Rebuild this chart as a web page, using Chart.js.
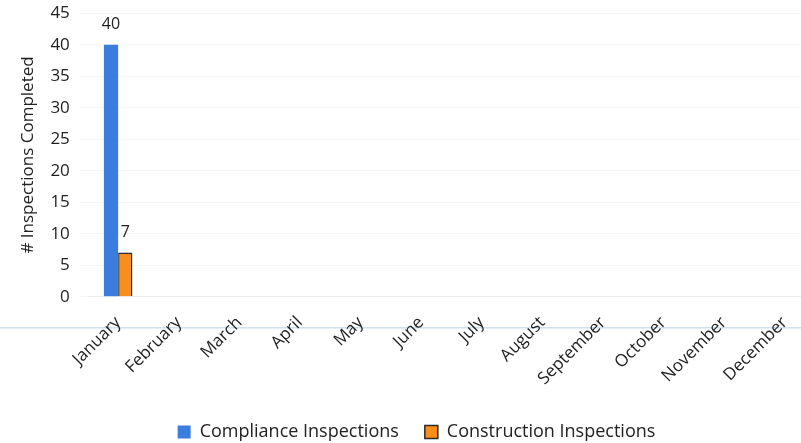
<!DOCTYPE html>
<html>
<head>
<meta charset="utf-8">
<script src="https://cdn.jsdelivr.net/npm/chart.js@4/dist/chart.umd.min.js"></script>
<style>
  html, body { margin: 0; padding: 0; background: #fff; overflow: hidden; }
  #wrap { width: 801px; height: 443px; overflow: hidden; }
  #myBarChart { display: block; margin-top: -7px; }
</style>
</head>
<body>
<div id="wrap"><canvas id="myBarChart" width="819" height="450"></canvas></div>
<script>
// chart data
var months = ["January", "February", "March", "April", "May", "June",
              "July", "August", "September", "October", "November", "December"];
var complianceCounts = [40, null, null, null, null, null, null, null, null, null, null, null];
var constructionCounts = [7, null, null, null, null, null, null, null, null, null, null, null];
var yTicks = [0, 5, 10, 15, 20, 25, 30, 35, 40, 45];

var fontName = "'Open Sans', 'Liberation Sans', sans-serif";

// draws the value above each bar (like excel data labels)
var valueLabels = {
	id: 'valueLabels',
	afterDatasetsDraw: function(chart) {
		var ctx = chart.ctx;
		ctx.save();
		ctx.fillStyle = '#222';
		ctx.font = '16px ' + fontName;
		ctx.textAlign = 'center';
		ctx.textBaseline = 'bottom';
		chart.data.datasets.forEach(function(ds, i) {
			chart.getDatasetMeta(i).data.forEach(function(bar, j) {
				if (ds.data[j] == null) return;
				ctx.fillText(String(ds.data[j]), bar.x, bar.y - 12);
			});
		});
		ctx.restore();
	}
};

// faint scan line under the axis
var scanLine = {
	id: 'scanLine',
	beforeDraw: function(chart) {
		var ctx = chart.ctx;
		var y = chart.chartArea.bottom + 31;
		ctx.save();
		ctx.strokeStyle = '#cfe0ee';
		ctx.lineWidth = 1.5;
		ctx.beginPath();
		ctx.moveTo(0, y);
		ctx.lineTo(chart.width, y);
		ctx.stroke();
		ctx.restore();
	}
};

var dataPreferences = {
	labels: months,
	datasets: [{
		label: 'Compliance Inspections',
		data: complianceCounts,
		backgroundColor: '#3b7ddd',
		borderColor: '#3b7ddd',
		borderWidth: 0
	}, {
		label: 'Construction Inspections',
		data: constructionCounts,
		backgroundColor: '#f98e1d',
		borderColor: '#2a2a2a',
		borderWidth: 1.5
	}]
};

var bar_ctx = document.getElementById("myBarChart");
var myBarChart = new Chart(bar_ctx, {
	type: 'bar',
	data: dataPreferences,
	plugins: [valueLabels, scanLine],
	options: {
		responsive: false,
		animation: false,
		layout: { padding: { left: 18, right: 4, top: 0, bottom: -8 } },
		datasets: {
			bar: { categoryPercentage: 0.47, barPercentage: 1.0 }
		},
		scales: {
			x: {
				grid: { display: false },
				border: { color: '#ececec' },
				ticks: {
					color: '#222',
					font: { family: fontName, size: 17 },
					minRotation: 45,
					maxRotation: 45,
					padding: 8
				}
			},
			y: {
				min: 0,
				max: 45,
				afterBuildTicks: function(axis) {
					axis.ticks = yTicks.map(function(v) { return { value: v }; });
				},
				grid: { color: '#f5f5f5' },
				border: { display: false },
				ticks: {
					color: '#222',
					font: { family: fontName, size: 17 },
					padding: 10
				},
				title: {
					display: true,
					text: '# Inspections Completed',
					color: '#222',
					font: { family: fontName, size: 17 },
					padding: { top: 0, bottom: 2 }
				}
			}
		},
		plugins: {
			legend: {
				position: 'bottom',
				labels: {
					color: '#222',
					font: { family: fontName, size: 18 },
					boxWidth: 13,
					boxHeight: 13,
					padding: 26
				}
			},
			tooltip: { enabled: false }
		}
	}
});
</script>
</body>
</html>
